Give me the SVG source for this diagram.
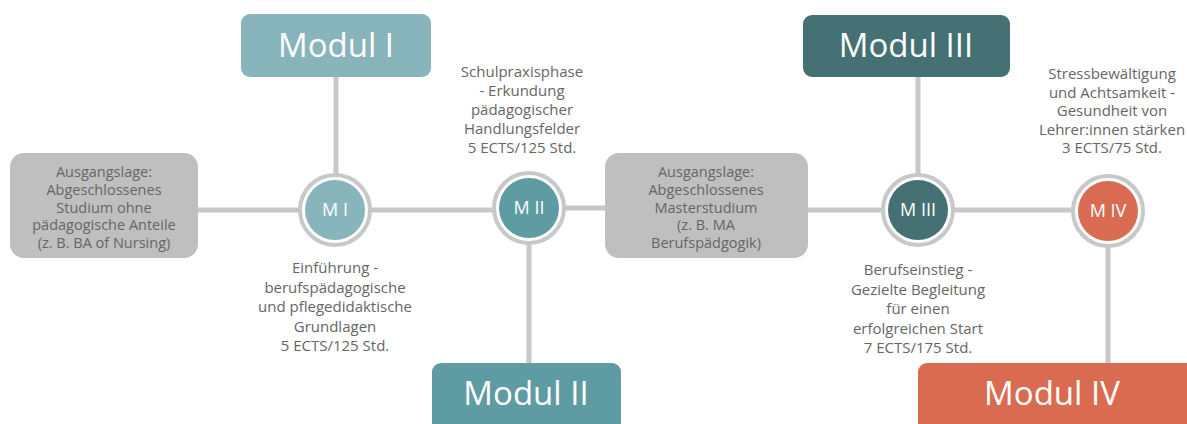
<svg xmlns="http://www.w3.org/2000/svg" width="1187" height="424" viewBox="0 0 1187 424">
<style>
.conn{stroke:#c8c8c8;stroke-width:5;fill:none}
.ring{stroke:#c8c8c8;stroke-width:4;fill:#fff}
.mod{font-family:"Open Sans","Noto Sans",sans-serif;font-size:33px;fill:#fff;text-anchor:middle}
.circ{font-family:"Open Sans","Noto Sans",sans-serif;font-size:18px;fill:#fff;text-anchor:middle}
.desc{font-family:"Open Sans","Noto Sans",sans-serif;font-size:15px;fill:#666;text-anchor:middle}
.gbox{fill:#bfbfbf}
.gtxt{font-family:"Open Sans","Noto Sans",sans-serif;font-size:14.5px;fill:#666;text-anchor:middle}
</style>
<rect width="1187" height="424" fill="#fff"/>
<g id="connectors">
<line class="conn" x1="198" y1="210" x2="300" y2="210"/>
<line class="conn" x1="336" y1="77" x2="336" y2="175"/>
<line class="conn" x1="370" y1="210" x2="494" y2="210"/>
<line class="conn" x1="564" y1="208" x2="606" y2="208"/>
<line class="conn" x1="529" y1="243" x2="529" y2="364"/>
<line class="conn" x1="808" y1="210" x2="883" y2="210"/>
<line class="conn" x1="918" y1="77" x2="918" y2="176"/>
<line class="conn" x1="952" y1="210" x2="1073" y2="210"/>
<line class="conn" x1="1108" y1="244" x2="1108" y2="364"/>
</g>
<g id="modul1">
<rect x="241" y="14" width="190" height="63" rx="9" fill="#88b4bb"/>
<text class="mod" x="336" y="57">Modul I</text>
</g>
<g id="modul2">
<rect x="432" y="363" width="189" height="70" rx="9" fill="#5e9ba3"/>
<text class="mod" x="526" y="405">Modul II</text>
</g>
<g id="modul3">
<rect x="803" y="15" width="207" height="62" rx="9" fill="#457074"/>
<text class="mod" x="906" y="57">Modul III</text>
</g>
<g id="modul4">
<rect x="918" y="363" width="280" height="70" rx="9" fill="#d96b50"/>
<text class="mod" x="1052" y="405">Modul IV</text>
</g>
<g id="start1">
<rect class="gbox" x="10" y="153" width="188" height="105" rx="14"/>
<text class="gtxt" x="104" y="177">Ausgangslage:</text>
<text class="gtxt" x="104" y="195">Abgeschlossenes</text>
<text class="gtxt" x="104" y="213">Studium ohne</text>
<text class="gtxt" x="104" y="230">pädagogische Anteile</text>
<text class="gtxt" x="104" y="248">(z. B. BA of Nursing)</text>
</g>
<g id="start2">
<rect class="gbox" x="605" y="153" width="203" height="105" rx="14"/>
<text class="gtxt" x="706" y="177">Ausgangslage:</text>
<text class="gtxt" x="706" y="195">Abgeschlossenes</text>
<text class="gtxt" x="706" y="213">Masterstudium</text>
<text class="gtxt" x="706" y="230">(z. B. MA</text>
<text class="gtxt" x="706" y="248">Berufspädgogik)</text>
</g>
<g id="m1">
<circle class="ring" cx="335" cy="210" r="35"/>
<circle cx="335" cy="210" r="30" fill="#88b4bb"/>
<text class="circ" x="335" y="216">M I</text>
</g>
<g id="m2">
<circle class="ring" cx="529" cy="208" r="35"/>
<circle cx="529" cy="208" r="30" fill="#5e9ba3"/>
<text class="circ" x="529" y="214">M II</text>
</g>
<g id="m3">
<circle class="ring" cx="918" cy="210" r="35"/>
<circle cx="918" cy="210" r="30" fill="#457074"/>
<text class="circ" x="918" y="216">M III</text>
</g>
<g id="m4">
<circle class="ring" cx="1108" cy="211" r="35"/>
<circle cx="1108" cy="211" r="30" fill="#d96b50"/>
<text class="circ" x="1108" y="217">M IV</text>
</g>
<g id="desc1">
<text class="desc" x="335" y="273">Einführung -</text>
<text class="desc" x="335" y="293">berufspädagogische</text>
<text class="desc" x="335" y="312">und pflegedidaktische</text>
<text class="desc" x="335" y="332">Grundlagen</text>
<text class="desc" x="335" y="351">5 ECTS/125 Std.</text>
</g>
<g id="desc2">
<text class="desc" x="522" y="77">Schulpraxisphase</text>
<text class="desc" x="522" y="96">- Erkundung</text>
<text class="desc" x="522" y="115">pädagogischer</text>
<text class="desc" x="522" y="134">Handlungsfelder</text>
<text class="desc" x="522" y="153">5 ECTS/125 Std.</text>
</g>
<g id="desc3">
<text class="desc" x="918" y="275">Berufseinstieg -</text>
<text class="desc" x="918" y="295">Gezielte Begleitung</text>
<text class="desc" x="918" y="314">für einen</text>
<text class="desc" x="918" y="334">erfolgreichen Start</text>
<text class="desc" x="918" y="353">7 ECTS/175 Std.</text>
</g>
<g id="desc4">
<text class="desc" x="1112" y="79">Stressbewältigung</text>
<text class="desc" x="1112" y="97.5">und Achtsamkeit -</text>
<text class="desc" x="1112" y="116">Gesundheit von</text>
<text class="desc" x="1112" y="134.5">Lehrer:innen stärken</text>
<text class="desc" x="1112" y="153">3 ECTS/75 Std.</text>
</g>
</svg>
